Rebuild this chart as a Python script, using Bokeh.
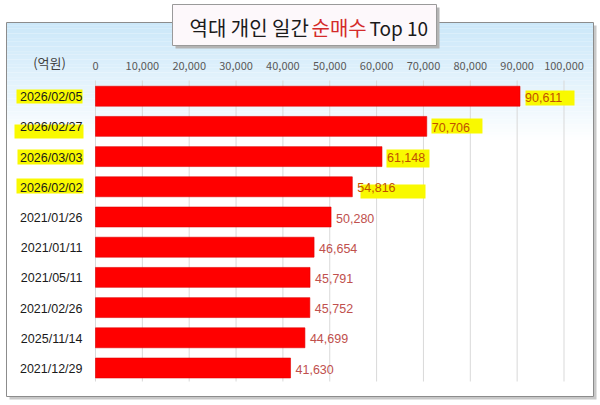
from bokeh.plotting import figure
from bokeh.models import Range1d, ColumnDataSource
from bokeh.core.properties import value
from bokeh.embed import file_html
from bokeh.resources import INLINE

# data (unit: 억원)
dates = ["2026/02/05", "2026/02/27", "2026/03/03", "2026/02/02", "2021/01/26",
         "2021/01/11", "2021/05/11", "2021/02/26", "2025/11/14", "2021/12/29"]
net_buy = [90611, 70706, 61148, 54816, 50280, 46654, 45791, 45752, 44699, 41630]
marked = [True, True, True, True, False, False, False, False, False, False]
ticks = [0, 10000, 20000, 30000, 40000, 50000, 60000, 70000, 80000, 90000, 100000]
tick_labels = ["0", "10,000", "20,000", "30,000", "40,000", "50,000",
               "60,000", "70,000", "80,000", "90,000", "100,000"]
unit_label = "(억원)"
title_parts = ["역대 개인 일간", "순매수", "Top 10"]

# page geometry (image pixels -> data units)
W, H = 600, 405
X0 = 95            # px of value 0
PX_PER = 468.5 / 100000
ROW0 = 95.7        # px of first row
ROW_PX = 30.2


def ix(img_x):
    return (img_x - X0) / PX_PER


def iy(img_y):
    return (img_y - ROW0) / ROW_PX


LAB = value("Liberation Sans")
KR = value("Noto Sans CJK KR")

p = figure(width=W, height=H, x_range=Range1d(ix(0), ix(W)),
           y_range=Range1d(iy(H), iy(0)),
           output_backend="svg", toolbar_location=None, min_border=0)
p.axis.visible = False
p.grid.visible = False
p.outline_line_color = None
p.background_fill_color = "white"
p.border_fill_color = "white"

# chart frame with shadow and soft blue gradient at the top
p.quad(left=ix(9), right=ix(596), top=iy(25), bottom=iy(399),
       fill_color="#c8c8c8", line_color=None)
p.quad(left=ix(6), right=ix(593), top=iy(22), bottom=iy(396),
       fill_color="white", line_color="#8c8c8c", line_width=1)
top_rgb = (204, 232, 249)
steps = 45
g_left, g_right, g_top, g_bot = [], [], [], []
g_col = []
for k in range(steps):
    y0 = 22.5 + k * 2.6
    t = (k / steps) ** 1.1
    c = tuple(int(round(a + (255 - a) * t)) for a in top_rgb)
    g_left.append(ix(6.5))
    g_right.append(ix(592.5))
    g_top.append(iy(y0))
    g_bot.append(iy(y0 + 2.7))
    g_col.append("#%02x%02x%02x" % c)
p.quad(left=g_left, right=g_right, top=g_top, bottom=g_bot,
       fill_color=g_col, line_color=None)

# gridlines
p.segment(x0=ticks, y0=[iy(80)] * len(ticks), x1=ticks, y1=[iy(381)] * len(ticks),
          line_color="#d9d9d9", line_width=1)

rows = list(range(len(dates)))
p.hbar(y=rows, left=0, right=net_buy, height=0.66,
       fill_color="#FF0000", line_color="#e00000", line_width=0.6)

# hand-drawn highlighter marks (pixel offsets)
cat_hl = [(16, 82, -6.7, 7.3), (14, 83, -1.9, 12.1), (17, 83, -7.1, 7.9), (16, 83, -8.3, 6.7)]
val_hl = [(5.5, 54.5, -5.7, 9.3), (4.7, 55.7, -7.9, 7.1), (4.5, 47.5, -7.1, 10.9), (8.2, 73.2, -2.3, 11.7)]
hl = dict(left=[], right=[], top=[], bottom=[])
j = 0
for i, m in enumerate(marked):
    if not m:
        continue
    a, b, t0, t1 = cat_hl[j]
    hl["left"].append(ix(a))
    hl["right"].append(ix(b))
    hl["top"].append(i + t0 / ROW_PX)
    hl["bottom"].append(i + t1 / ROW_PX)
    a, b, t0, t1 = val_hl[j]
    hl["left"].append(net_buy[i] + a / PX_PER)
    hl["right"].append(net_buy[i] + b / PX_PER)
    hl["top"].append(i + t0 / ROW_PX)
    hl["bottom"].append(i + t1 / ROW_PX)
    j += 1
p.quad(source=ColumnDataSource(hl), left="left", right="right", top="top", bottom="bottom",
       fill_color="#f9f900", line_color=None)

# category labels
p.text(x=[ix(82)] * len(dates), y=rows, text=dates, text_align="right",
       text_baseline="middle", y_offset=1, text_font=LAB, text_font_size="12.5px",
       text_color="#1a1a1a")

# value labels
val_src = ColumnDataSource(dict(
    x=[v + 5 / PX_PER for v in net_buy],
    y=rows,
    t=[f"{v:,}" for v in net_buy],
    c=["#c05000" if m else "#c0504d" for m in marked],
))
p.text(x="x", y="y", text="t", text_color="c", source=val_src, text_align="left",
       text_baseline="middle", y_offset=1, text_font=LAB, text_font_size="12.5px")

# top tick labels and unit
p.text(x=ticks, y=[iy(65)] * len(ticks), text=tick_labels, text_align="center",
       text_baseline="middle", text_font=KR, text_font_size="11px", text_color="#595959")
p.text(x=[ix(49)], y=[iy(62)], text=[unit_label], text_align="center",
       text_baseline="middle", text_font=KR, text_font_size="13px", text_color="#404040")

# title box
p.quad(left=ix(175), right=ix(439), top=iy(7), bottom=iy(48),
       fill_color="#b4b4b4", line_color=None)
p.quad(left=ix(172), right=ix(436), top=iy(4), bottom=iy(45),
       fill_color="#fdf8fb", line_color="#9a9a9a", line_width=1)
title_x = [ix(189), ix(311), ix(369)]
title_c = ["#1a1a1a", "#d42a2a", "#1a1a1a"]
title_s = ["20px", "20px", "19px"]
for tx, tt, tc, ts in zip(title_x, title_parts, title_c, title_s):
    p.text(x=[tx], y=[iy(26.5)], text=[tt], text_align="left", text_baseline="middle",
           text_font=KR, text_font_size=ts, text_color=tc)

open("out.html", "w").write(file_html(p, INLINE))
